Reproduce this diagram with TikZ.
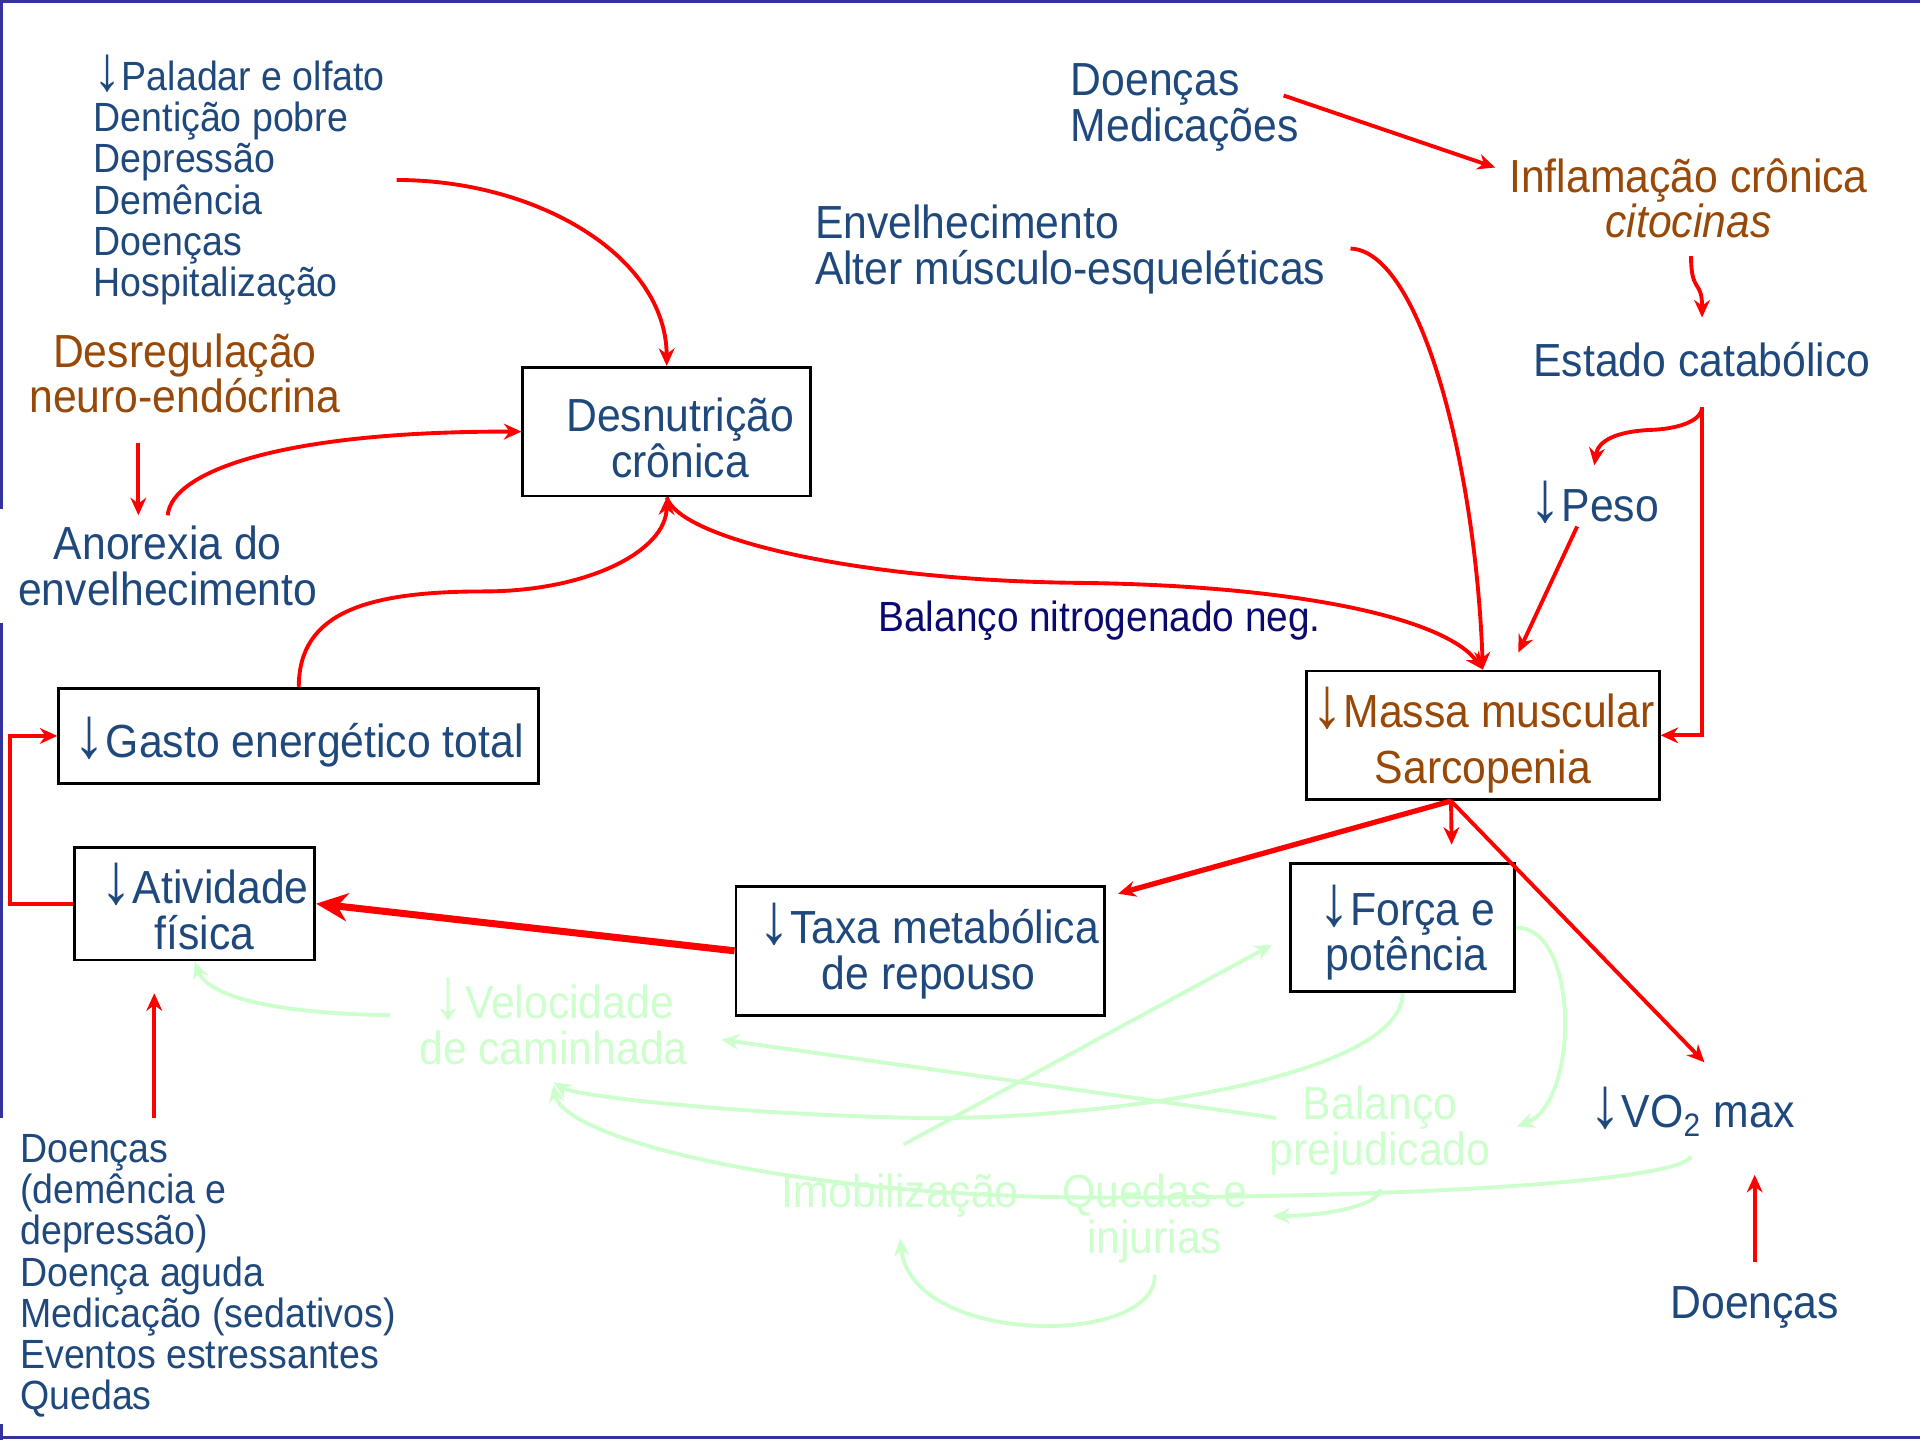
\documentclass[tikz,border=0pt]{standalone}
\usepackage{fontspec}
\usepackage{graphicx}
\setmainfont[FakeStretch=0.92]{Liberation Sans}
\usetikzlibrary{arrows.meta,calc}
\definecolor{txtblue}{RGB}{31,73,125}
\definecolor{txtbrown}{RGB}{152,72,7}
\definecolor{navy}{RGB}{10,10,110}
\definecolor{pale}{RGB}{204,255,204}
\definecolor{frame}{RGB}{51,51,153}
\newcommand\uu{0.012245cm}
\newcommand\dn{\scalebox{1.5}[1.55]{↓}}

\begin{document}
\begin{tikzpicture}[
    x=0.012245cm, y=-0.012245cm,
    >={Stealth[length=5pt,width=4.5pt]},
    bigtxt/.style={
        font=\fontsize{13.2pt}{13pt}\selectfont,
        text=txtblue,
        align=center,
        inner sep=0pt
    },
    smalltxt/.style={
        font=\fontsize{11.6pt}{11.7pt}\selectfont,
        text=txtblue,
        align=left,
        inner sep=0pt
    },
    boxnode/.style={bigtxt, draw=black, line width=0.8pt, fill=white},
    link/.style={->, red, line width=1.1pt},
    fade/.style={->, pale, line width=1.1pt}
]
\useasboundingbox (0,0) rectangle (1568,1176);

% frame
\draw[frame, line width=2.4*\uu] (0,1.2) -- (1568,1.2);
\draw[frame, line width=2.4*\uu] (0,1173.8) -- (1568,1173.8);
\draw[frame, line width=2.4*\uu] (1.2,0) -- (1.2,416);
\draw[frame, line width=2.4*\uu] (1.2,509) -- (1.2,913);
\draw[frame, line width=2.4*\uu] (1.2,1163) -- (1.2,1176);

% causes and boxes
\node[smalltxt, anchor=west] (causes) at (76,147) {\dn Paladar e olfato\\Dentição pobre\\Depressão\\Demência\\Doenças\\Hospitalização};
\node[bigtxt, text=txtbrown] (dysreg) at (151,305) {Desregulação\\neuro-endócrina};
\node[bigtxt] (anorexia) at (137,462) {Anorexia do\\envelhecimento};
\node[boxnode, minimum width=235*\uu, minimum height=105*\uu] (malnut) at (544.5,352.5) {\rule{0pt}{13pt}\hspace*{0.27cm}Desnutrição\\\hspace*{0.27cm}crônica};
\node[boxnode, minimum width=392*\uu, minimum height=78*\uu] (expend) at (244,601) {\rule{0pt}{15.2pt}\dn Gasto energético total};
\node[boxnode, minimum width=196*\uu, minimum height=92*\uu] (activity) at (159,738) {\rule{0pt}{13pt}\hspace*{0.2cm}\dn Atividade\\\hspace*{0.2cm}física};
\node[boxnode, minimum width=301*\uu, minimum height=105*\uu] (rmr) at (751.5,776.5) {\hspace*{0.17cm}\dn Taxa metabólica\\\hspace*{0.17cm}de repouso};
\node[boxnode, minimum width=183*\uu, minimum height=105*\uu] (strength) at (1145.5,757.5) {\rule{0pt}{14.4pt}\hspace*{0.08cm}\dn Força e\\\hspace*{0.08cm}potência};
\node[boxnode, text=txtbrown, minimum width=288*\uu, minimum height=105*\uu] (mass) at (1211,600.5) {\rule{0pt}{14.4pt}\dn Massa muscular\\[3pt]Sarcopenia};

\node[bigtxt, anchor=west, align=left] (illness) at (874,88) {Doenças\\Medicações};
\node[bigtxt, anchor=west, align=left] (ageing) at (665,204) {Envelhecimento\\Alter músculo-esqueléticas};
\node[bigtxt, text=txtbrown] (inflam) at (1379,162) {Inflamação crônica\\\textit{citocinas}};
\node[bigtxt] (catab) at (1390,294) {Estado catabólico};
\node[bigtxt] (weight) at (1302,410) {\dn Peso};
\node[bigtxt, text=navy, font=\fontsize{12pt}{12pt}\selectfont] (nbal) at (898,507) {Balanço nitrogenado neg.};
\node[bigtxt] (vo2) at (1382,908) {\dn VO\textsubscript{2} max};
\node[bigtxt] (disease) at (1433,1068) {Doenças};
\node[smalltxt, anchor=west] (factors) at (16,1042) {Doenças\\(demência e\\depressão)\\Doença aguda\\Medicação (sedativos)\\Eventos estressantes\\Quedas};

% faded consequences
\node[bigtxt, text=pale] (gait) at (452,834) {\dn Velocidade\\de caminhada};
\node[bigtxt, text=pale] (balance) at (1127,923) {Balanço\\prejudicado};
\node[bigtxt, text=pale] (immob) at (735,976) {Imobilização};
\node[bigtxt, text=pale] (falls) at (943,995) {Quedas e\\injurias};

% red links
\draw[link] ($(causes.east)+(9,0)$) .. controls (440,147) and (544,210) .. (malnut.north);
\draw[link] ($(dysreg.south)+(-38,24)$) -- ($(anorexia.north)+(-24,-8)$);
\draw[link] ($(anorexia.north)+(0,-8)$) .. controls (140,385) and (230,352) .. (malnut.west);
\draw[link] (expend.north) .. controls (244,500) and (300,483) .. (395,483) .. controls (480,483) and (544,450) .. (malnut.south);
\draw[link] (malnut.south) .. controls (555,440) and (700,474) .. (880,476) .. controls (1060,478) and (1180,505) .. (mass.north);
\draw[link] ($(ageing.east)+(20,-1)$) .. controls (1160,205) and (1205,380) .. (mass.north);
\draw[link] ($(illness.east)+(-13,-10)$) -- ($(inflam.north west)+(-11,8)$);
\draw[link] ($(inflam.south)+(2,14)$) .. controls (1381,240) and (1390,228) .. ($(catab.north)+(0,-20)$);
\coordinate (split) at ($(catab.south)+(0,24)$);
\draw[link] (split) .. controls (1390,343) and (1372,350) .. (1350,351) .. controls (1320,352) and (1305,360) .. ($(weight.north)+(0,-12)$);
\draw[link] (split) |- (mass.east);
\draw[link] ($(weight.south)+(-14,2)$) -- ($(mass.north)+(29,-14)$);
\coordinate (hub) at ($(mass.south)+(-26,0)$);
\draw[link, line width=1.5pt] (hub) -- ($(rmr.north east)+(10,7)$);
\draw[link] (hub) -- ($(strength.north)+(40,-14)$);
\draw[link] (hub) -- ($(vo2.north)+(10,-20)$);
\draw[red, line width=2pt, -{Stealth[length=9pt,width=8pt]}] (rmr.west) -- (activity.east);
\draw[link] (activity.west) -- ++(-52,0) |- (expend.west);
\draw[link] ($(factors.north west)+(110,-13)$) -- ($(activity.south)+(-33,26)$);
\draw[link] ($(disease.north)+(0,-20)$) -- ($(vo2.south)+(51,31)$);

% faded links
\draw[fade] ($(gait.west)+(-23,-5)$) .. controls (230,828) and (170,815) .. (activity.south);
\draw[fade] ($(balance.west)+(6,-10)$) -- ($(gait.east)+(27,15)$);
\draw[fade] (strength.south) .. controls (1145,880) and (900,915) .. (750,913) .. controls (600,910) and (470,895) .. ($(gait.south)+(0,14)$);
\draw[fade] ($(vo2.south)+(-1,16)$) .. controls (1370,965) and (1150,978) .. (900,978) .. controls (650,978) and (460,930) .. ($(gait.south)+(0,16)$);
\draw[fade] ($(immob.north)+(3,-23)$) -- ($(strength.west)+(-14,14)$);
\draw[fade] (strength.east) .. controls (1290,757) and (1290,900) .. ($(balance.east)+(21,-3)$);
\draw[fade] ($(balance.south)+(0,11)$) .. controls (1127,985) and (1080,993) .. ($(falls.east)+(20,-2)$);
\draw[fade] ($(falls.south)+(0,9)$) .. controls (945,1100) and (745,1100) .. ($(immob.south)+(0,17)$);

\end{tikzpicture}
\end{document}
